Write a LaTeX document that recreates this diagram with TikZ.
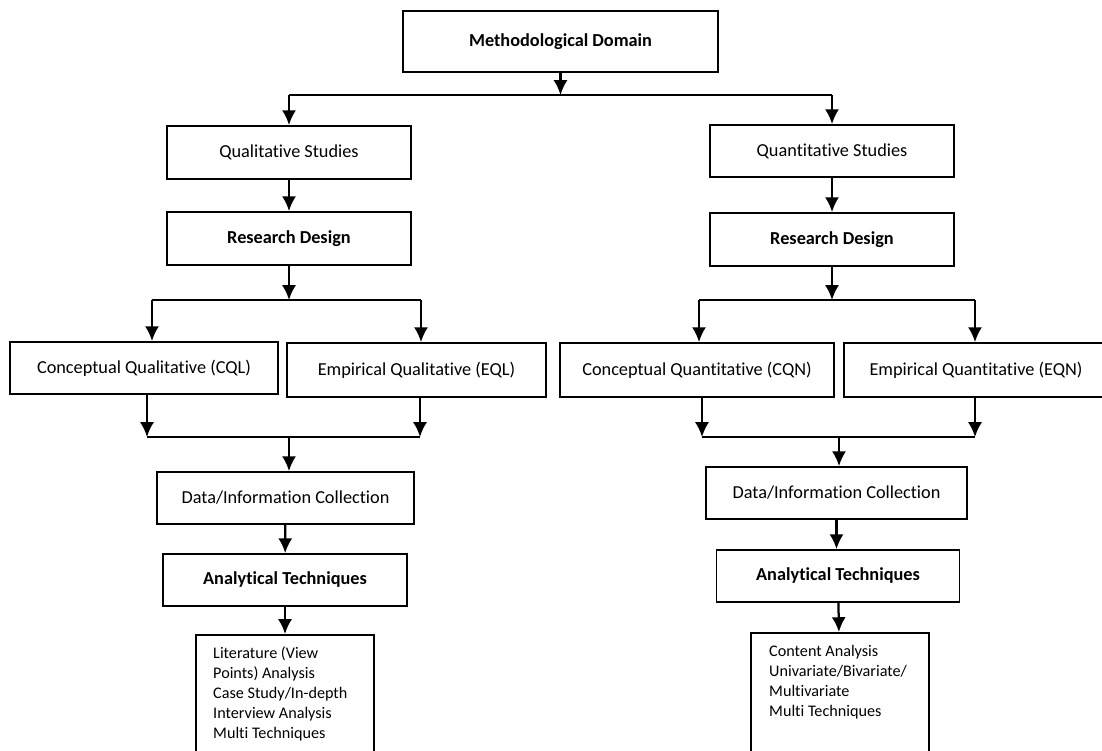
\documentclass[tikz,border=0pt]{standalone}
\usepackage{fontspec}
\setmainfont{Carlito}[RawFeature={-liga,-clig,-calt,-dlig}]
\usetikzlibrary{arrows.meta, calc, positioning}

\begin{document}
\begin{tikzpicture}[x=0.025cm, y=-0.025cm, >={Latex[length=10.5pt, width=10pt]},
    font=\fontsize{13}{16}\selectfont, line width=1.6pt,
    box/.style={draw, line width=1.3pt, inner sep=2pt},
    w/.style={minimum width=#1*0.025cm},
    h/.style={minimum height=#1*0.025cm},
    bold/.style={font=\fontsize{13}{16}\selectfont\bfseries},
    list/.style={align=left, inner sep=0pt, font=\fontsize{11.5}{14.2}\selectfont}]
    \useasboundingbox (0,0) rectangle (1102,750);
    \clip (0,0) rectangle (1102,750);

    \node[box, bold, w=315, h=61] (dom) at (560.5,41.5) {Methodological Domain};
    \node[box, w=244, h=53] (qual) at (289,152.5) {Qualitative Studies};
    \node[box, w=244, h=52] (quan) at (832,151) {Quantitative Studies};
    \node[box, bold, w=244, h=53] (des1) at (289,238.5) {Research Design};
    \node[box, bold, w=244, h=53] (des2) at (832,239.5) {Research Design};

    \node[box, w=268, h=52] (cql) at (144,368) {Conceptual Qualitative (CQL)};
    \node[box, w=259, h=54] (eql) at (416.5,370) {Empirical Qualitative (EQL)};
    \node[box, w=274, h=54] (cqn) at (697,370) {Conceptual Quantitative (CQN)};
    \node[box, w=264, h=54] (eqn) at (976,370) {Empirical Quantitative (EQN)};

    \node[box, w=257, h=52] (data1) at (285.5,498) {Data/Information Collection};
    \node[box, w=261, h=52] (data2) at (836.5,493) {Data/Information Collection};
    \node[box, bold, w=244, h=52] (ana1) at (285,580) {Analytical Techniques};
    \node[box, bold, w=243, h=52] (ana2) at (838,576) {Analytical Techniques};

    \node[box, w=178, h=130, anchor=north] (res1) at (285,634) {};
    \node[box, w=178, h=130, anchor=north] (res2) at (840,632) {};
    \node[list, anchor=north west] (list1) at ($(res1.north west)+(17,12)$)
        {Literature (View\\Points) Analysis\\Case Study/In-depth\\Interview Analysis\\Multi Techniques};
    \node[list, anchor=north west] (list2) at ($(res2.north west)+(18,12)$)
        {Content Analysis\\Univariate/Bivariate/\\Multivariate\\Multi Techniques};

    % split into the two studies
    \coordinate (j0) at (560.5,95);
    \draw[->] (dom.south) -- (j0);
    \draw (qual.north |- j0) -- (quan.north |- j0);
    \draw[->] (qual.north |- j0) -- (qual);
    \draw[->] (quan.north |- j0) -- (quan);
    \draw[->] (qual) -- (des1);
    \draw[->] (quan) -- (des2);

    % qualitative branch
    \coordinate (j1a) at (152,300);
    \coordinate (j1b) at (421,300);
    \draw[->] (des1.south) -- (des1.south |- j1a);
    \draw (j1a) -- (j1b);
    \draw[->] (j1a) -- (j1a |- cql.north);
    \draw[->] (j1b) -- (j1b |- eql.north);
    \coordinate (j2a) at (147,437);
    \coordinate (j2b) at (420,437);
    \coordinate (j2) at (289,437);
    \draw[->] (j2a |- cql.south) -- (j2a);
    \draw[->] (j2b |- eql.south) -- (j2b);
    \draw (j2a) -- (j2b);
    \draw[->] (j2) -- (j2 |- data1.north);
    \draw[->] (data1) -- (ana1);
    \draw[->] (ana1) -- (res1);

    % quantitative branch
    \coordinate (j3a) at (699,300);
    \coordinate (j3b) at (975,300);
    \draw[->] (des2.south) -- (des2.south |- j3a);
    \draw (j3a) -- (j3b);
    \draw[->] (j3a) -- (j3a |- cqn.north);
    \draw[->] (j3b) -- (j3b |- eqn.north);
    \coordinate (j4a) at (702,437);
    \coordinate (j4b) at (975,437);
    \coordinate (j4) at (839,437);
    \draw[->] (j4a |- cqn.south) -- (j4a);
    \draw[->] (j4b |- eqn.south) -- (j4b);
    \draw (j4a) -- (j4b);
    \draw[->] (j4) -- (j4 |- data2.north);
    \draw[->] (data2) -- (data2 |- ana2.north);
    \draw[->] (ana2) -- (res2);
\end{tikzpicture}
\end{document}
